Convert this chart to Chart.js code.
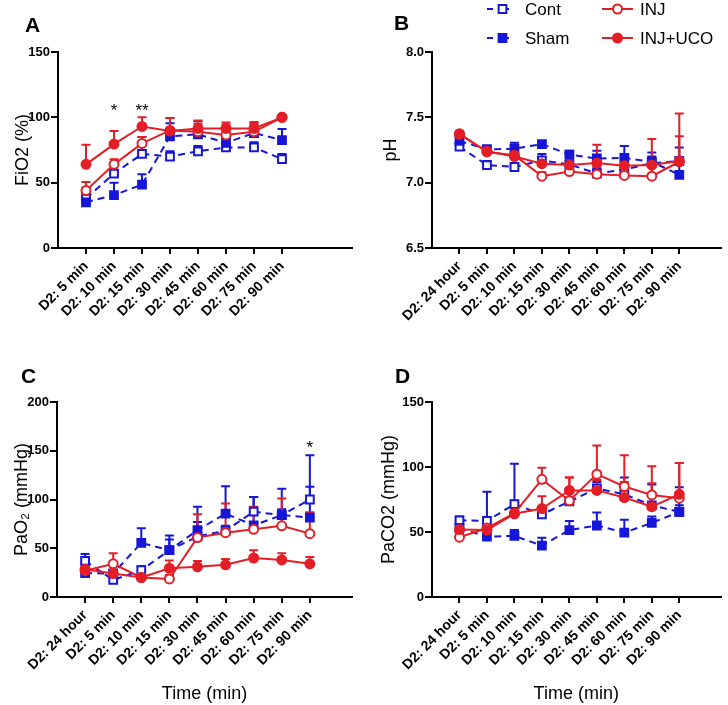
<!DOCTYPE html>
<html>
<head>
<meta charset="utf-8">
<script src="https://cdn.jsdelivr.net/npm/chart.js@4.4.1/dist/chart.umd.min.js"></script>
<style>
  body { margin: 0; background: #fff; }
  #wrap { position: relative; width: 728px; height: 705px; }
  canvas { position: absolute; }
  .tag { position: absolute; font: bold 21px 'Liberation Sans', Arial, sans-serif; line-height: 1; color: #000; }
</style>
</head>
<body>
<div id="wrap">
  <canvas id="chartA" width="364" height="340" style="left:0;top:0"></canvas>
  <canvas id="chartB" width="364" height="340" style="left:364px;top:0"></canvas>
  <canvas id="chartC" width="364" height="365" style="left:0;top:340px"></canvas>
  <canvas id="chartD" width="364" height="365" style="left:364px;top:340px"></canvas>
  <div class="tag" style="left:25px;top:14px">A</div>
  <div class="tag" style="left:394px;top:12px">B</div>
  <div class="tag" style="left:21px;top:365px">C</div>
  <div class="tag" style="left:395px;top:365px">D</div>
</div>
<script>
// time points
const labelsA = ['D2: 5 min', 'D2: 10 min', 'D2: 15 min', 'D2: 30 min', 'D2: 45 min', 'D2: 60 min', 'D2: 75 min', 'D2: 90 min'];
const labelsBCD = ['D2: 24 hour', 'D2: 5 min', 'D2: 10 min', 'D2: 15 min', 'D2: 30 min', 'D2: 45 min', 'D2: 60 min', 'D2: 75 min', 'D2: 90 min'];

// A - FiO2 (%)
const fio2Cont = [38, 57, 72, 70, 74, 77, 77, 68];
const fio2ContErr = [8, 7, 13, 4, 4, 3, 4, 4];
const fio2Sham = [35, 40.5, 48.5, 85.5, 87, 80.5, 88, 82.5];
const fio2ShamErr = [3, 9.5, 8, 10, 10, 4, 7, 8.5];
const fio2Inj = [44, 64, 80, 90, 89, 86.5, 89, 100];
const fio2InjErr = [6.5, 4, 5, 9.5, 6, 8, 6, 0];
const fio2InjUco = [64, 79.5, 93, 89.5, 91.5, 91.5, 91.5, 100];
const fio2InjUcoErr = [15, 10, 7, 10, 6, 4.5, 5, 0];

// B - pH
const phCont = [7.275, 7.135, 7.12, 7.17, 7.14, 7.07, 7.10, 7.15, 7.165];
const phContErr = [0.03, 0.03, 0.02, 0.05, 0.03, 0.04, 0.05, 0.05, 0.03];
const phSham = [7.32, 7.255, 7.26, 7.295, 7.215, 7.185, 7.19, 7.16, 7.06];
const phShamErr = [0.05, 0.03, 0.045, 0.02, 0.03, 0.06, 0.09, 0.07, 0.21];
const phInj = [7.375, 7.235, 7.21, 7.05, 7.085, 7.065, 7.055, 7.05, 7.16];
const phInjErr = [0.02, 0.03, 0.02, 0.03, 0.03, 0.06, 0.04, 0.08, 0.37];
const phInjUco = [7.37, 7.24, 7.2, 7.145, 7.135, 7.15, 7.13, 7.135, 7.165];
const phInjUcoErr = [0.02, 0.04, 0.03, 0.02, 0.03, 0.14, 0.05, 0.2, 0.19];

// C - PaO2 (mmHg)
const pao2Cont = [37, 17.5, 27.5, 48, 62, 68, 87.5, 84, 100];
const pao2ContErr = [7, 5, 4, 11, 15, 5, 15, 6, 13];
const pao2Sham = [24.5, 24, 55.5, 48, 68.5, 85.5, 73.5, 84, 81.5];
const pao2ShamErr = [4, 4, 15, 15, 24, 28, 29, 27, 64];
const pao2Inj = [27, 34, 20, 18.5, 61, 66, 69.5, 73, 65];
const pao2InjErr = [4, 11, 3, 4, 24, 30, 23, 28, 22];
const pao2InjUco = [28.5, 24, 20, 29.5, 31, 33, 40, 38, 34];
const pao2InjUcoErr = [4, 4, 3, 8, 6, 6, 8, 7, 7];

// D - PaCO2 (mmHg)
const paco2Cont = [59, 58.5, 71.5, 63.5, 73.5, 83.5, 79, 70.5, 65.5];
const paco2ContErr = [3, 22.5, 31, 4, 8, 5, 13, 16, 19];
const paco2Sham = [53, 46.5, 47, 39.5, 51.5, 55, 49.5, 57, 65.5];
const paco2ShamErr = [3, 3, 4.5, 6, 7, 10, 10, 5, 5];
const paco2Inj = [46, 53, 64.5, 90.5, 74, 94.5, 85, 78.5, 76];
const paco2InjErr = [3, 3, 4, 9, 18, 22, 24, 22, 27];
const paco2InjUco = [52, 51.5, 64, 68, 82, 82, 76.5, 69.5, 79];
const paco2InjUcoErr = [3, 3, 10, 9.5, 10, 8, 12, 18, 24];

// significance marks: [index, value, text]
const starsA = [[1, 108, '*'], [2, 108, '**']];
const starsC = [[8, 157, '*']];

const blue = '#1616d8';
const red = '#e41e26';
const FONT = "'Liberation Sans', Arial, sans-serif";

const groups = {
  Cont: { color: blue, dash: [7, 5], pointStyle: 'rect', radius: 5.5, fill: '#fff', order: 3 },
  Sham: { color: blue, dash: [7, 5], pointStyle: 'rect', radius: 5.5, fill: blue, order: 2 },
  INJ: { color: red, dash: [], pointStyle: 'circle', radius: 4.5, fill: '#fff', order: 1 },
  'INJ+UCO': { color: red, dash: [], pointStyle: 'circle', radius: 4.5, fill: red, order: 0 },
};

function makeDataset(name, values, err) {
  const g = groups[name];
  return {
    label: name,
    data: values.map((v, i) => ({ x: i, y: v })),
    errUp: err,
    borderColor: g.color,
    borderWidth: 2,
    borderDash: g.dash,
    pointStyle: g.pointStyle,
    pointRadius: g.radius,
    pointBackgroundColor: g.fill,
    pointBorderColor: g.color,
    pointBorderWidth: 2,
    tension: 0,
    order: g.order,
    clip: 12,
  };
}

const errorBars = {
  id: 'errorBars',
  beforeDatasetsDraw(chart) {
    const ctx = chart.ctx;
    const yScale = chart.scales.y;
    chart.data.datasets.forEach((ds, di) => {
      const meta = chart.getDatasetMeta(di);
      ctx.save();
      ctx.strokeStyle = ds.borderColor;
      ctx.lineWidth = 2;
      meta.data.forEach((pt, i) => {
        const e = ds.errUp[i];
        if (!e) return;
        const top = yScale.getPixelForValue(ds.data[i].y + e);
        ctx.beginPath();
        ctx.moveTo(pt.x, pt.y);
        ctx.lineTo(pt.x, top);
        ctx.moveTo(pt.x - 4.5, top);
        ctx.lineTo(pt.x + 4.5, top);
        ctx.stroke();
      });
      ctx.restore();
    });
  },
};

const starMarks = {
  id: 'starMarks',
  afterDatasetsDraw(chart, args, opts) {
    if (!opts.marks) return;
    const ctx = chart.ctx;
    ctx.save();
    ctx.fillStyle = '#000';
    ctx.font = '17px ' + FONT;
    ctx.textAlign = 'center';
    ctx.textBaseline = 'alphabetic';
    opts.marks.forEach(([i, v, t]) => {
      ctx.fillText(t, chart.scales.x.getPixelForValue(i), chart.scales.y.getPixelForValue(v) + 9);
    });
    ctx.restore();
  },
};

const groupLegend = {
  id: 'groupLegend',
  afterDraw(chart, args, opts) {
    if (!opts.show) return;
    const ctx = chart.ctx;
    const spots = { Cont: [123, 9], Sham: [123, 38], INJ: [238, 9], 'INJ+UCO': [238, 38] };
    ctx.save();
    ctx.font = '17px ' + FONT;
    ctx.textBaseline = 'middle';
    Object.keys(spots).forEach((name) => {
      const g = groups[name];
      const [x, y] = spots[name];
      ctx.strokeStyle = g.color;
      ctx.lineWidth = 2;
      ctx.setLineDash(g.dash.length ? [6, 10] : []);
      ctx.beginPath();
      ctx.moveTo(x, y);
      ctx.lineTo(x + 31, y);
      ctx.stroke();
      ctx.setLineDash([]);
      ctx.fillStyle = g.fill;
      Chart.helpers.drawPoint(ctx, { pointStyle: g.pointStyle, radius: g.radius, borderWidth: 2, rotation: 0 }, x + 15.5, y);
      ctx.fillStyle = '#000';
      ctx.fillText(name, x + 38, y + 1);
    });
    ctx.restore();
  },
};

function makePanel(id, labels, sets, y, layout, extra) {
  const n = labels.length;
  new Chart(document.getElementById(id), {
    type: 'line',
    data: { datasets: sets },
    plugins: [errorBars, starMarks, groupLegend],
    options: {
      responsive: false,
      animation: false,
      layout: { padding: { top: layout.top, right: layout.right, left: 0, bottom: 0 } },
      plugins: {
        legend: { display: false },
        tooltip: { enabled: false },
        starMarks: { marks: extra.stars },
        groupLegend: { show: !!extra.legend },
      },
      scales: {
        x: {
          type: 'linear',
          min: -1,
          max: 9.5,
          afterFit: (s) => { s.height = layout.xh; },
          afterBuildTicks: (s) => { s.ticks = s.ticks.filter((t) => t.value >= 0 && t.value < n); },
          border: { display: true, color: '#000', width: 2 },
          grid: { display: true, drawOnChartArea: false, color: '#000', lineWidth: 2, tickLength: 6 },
          ticks: {
            stepSize: 1,
            autoSkip: false,
            minRotation: 45,
            maxRotation: 45,
            padding: 4,
            color: '#000',
            font: { family: FONT, size: 14, weight: 'bold' },
            callback: (v) => labels[v],
          },
          title: {
            display: !!extra.xTitle,
            text: extra.xTitle || '',
            color: '#000',
            font: { family: FONT, size: 18 },
            padding: { top: 0, bottom: 0 },
          },
        },
        y: {
          min: y.min,
          max: y.max,
          afterFit: (s) => { s.width = layout.yw; },
          border: { display: true, color: '#000', width: 2 },
          grid: { display: true, drawOnChartArea: false, color: '#000', lineWidth: 2, tickLength: 7 },
          ticks: {
            stepSize: y.step,
            padding: 1,
            color: '#000',
            font: { family: FONT, size: 13, weight: 'bold' },
            callback: (v) => (y.step < 1 ? v.toFixed(1) : v),
          },
          title: {
            display: true,
            text: y.title,
            color: '#000',
            font: { family: FONT, size: 18 },
            padding: { top: layout.tp, bottom: 0 },
          },
        },
      },
    },
  });
}

makePanel('chartA', labelsA, [
  makeDataset('Cont', fio2Cont, fio2ContErr),
  makeDataset('Sham', fio2Sham, fio2ShamErr),
  makeDataset('INJ', fio2Inj, fio2InjErr),
  makeDataset('INJ+UCO', fio2InjUco, fio2InjUcoErr),
], { min: 0, max: 150, step: 50, title: 'FiO2 (%)' },
{ top: 52, right: 12, xh: 92, yw: 58, tp: 12 }, { stars: starsA });

makePanel('chartB', labelsBCD, [
  makeDataset('Cont', phCont, phContErr),
  makeDataset('Sham', phSham, phShamErr),
  makeDataset('INJ', phInj, phInjErr),
  makeDataset('INJ+UCO', phInjUco, phInjUcoErr),
], { min: 6.5, max: 8.0, step: 0.5, title: 'pH' },
{ top: 52, right: 1, xh: 92, yw: 68, tp: 16 }, { legend: true });

makePanel('chartC', labelsBCD, [
  makeDataset('Cont', pao2Cont, pao2ContErr),
  makeDataset('Sham', pao2Sham, pao2ShamErr),
  makeDataset('INJ', pao2Inj, pao2InjErr),
  makeDataset('INJ+UCO', pao2InjUco, pao2InjUcoErr),
], { min: 0, max: 200, step: 50, title: 'PaO\u2082 (mmHg)' },
{ top: 62, right: 12, xh: 108, yw: 57, tp: 11 }, { stars: starsC, xTitle: 'Time (min)' });

makePanel('chartD', labelsBCD, [
  makeDataset('Cont', paco2Cont, paco2ContErr),
  makeDataset('Sham', paco2Sham, paco2ShamErr),
  makeDataset('INJ', paco2Inj, paco2InjErr),
  makeDataset('INJ+UCO', paco2InjUco, paco2InjUcoErr),
], { min: 0, max: 150, step: 50, title: 'PaCO2 (mmHg)' },
{ top: 62, right: 1, xh: 108, yw: 68, tp: 14 }, { xTitle: 'Time (min)' });
</script>
</body>
</html>
